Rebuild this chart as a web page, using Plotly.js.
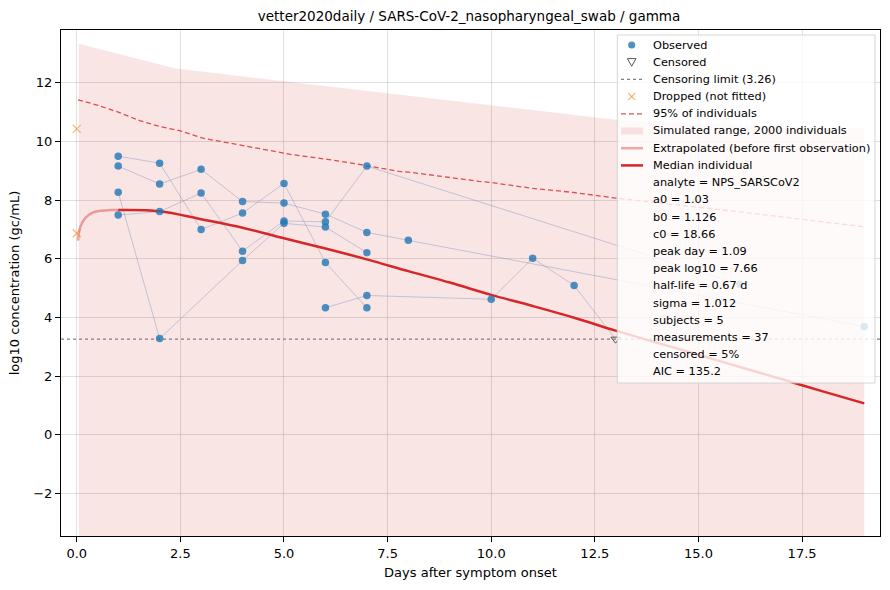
<!DOCTYPE html>
<html>
<head>
<meta charset="utf-8">
<script src="https://cdn.plot.ly/plotly-3.0.1.min.js"></script>
<style>
  html, body { margin: 0; padding: 0; background: #fff; }
  #chart { width: 890px; height: 590px; }
</style>
</head>
<body>
<div id="chart"></div>
<script>
// --- data ---
const CENSOR_LIMIT = 3.26;

// one entry per subject: days, log10 values (+ censored flags)
const s1Days = [1, 2, 3, 4, 5, 6, 7];
const s1Vals = [9.50, 9.26, 7.00, 7.56, 8.57, 5.87, 4.33];
const s2Days = [1, 2, 3, 4, 5, 6, 7, 8, 19];
const s2Vals = [9.16, 8.55, 9.05, 7.95, 7.90, 7.52, 6.90, 6.63, 3.69];
const s3Days = [1, 2, 3, 4, 5, 6, 7, 16];
const s3Vals = [7.49, 7.61, 8.24, 6.26, 7.29, 7.26, 9.16, 5.13];
const s4Days = [1, 2, 4, 5, 6, 7];
const s4Vals = [8.27, 3.28, 5.94, 7.21, 7.08, 6.21];
const s5Days = [6, 7, 10, 11, 12, 13];
const s5Vals = [4.33, 4.75, 4.62, 6.02, 5.09, 3.26];
const s5Cens = [false, false, false, false, false, true];

const droppedDays = [0, 0];
const droppedVals = [10.43, 6.87];

// median individual, extrapolated part before first observation
const extrapDays = [0.03, 0.08, 0.2, 0.36, 0.6, 0.8, 1.0];
const extrapVals = [6.62, 7.06, 7.38, 7.56, 7.64, 7.66, 7.66];
const medianDays = [1, 2, 3, 4, 5, 6, 7, 8, 9, 10, 11, 12, 13, 14, 15, 16, 17, 18, 19];
const medianVals = [7.66, 7.62, 7.35, 7.06, 6.70, 6.35, 5.98, 5.58, 5.19, 4.77, 4.39, 3.99, 3.55, 3.14, 2.73, 2.31, 1.90, 1.48, 1.07];

// 95% of individuals
const p95Days = [0.03, 0.47, 1.0, 1.52, 2.0, 2.48, 3.05, 3.93, 4.57, 5.2, 6.0, 6.77, 7.78, 8.1, 9.71, 10, 11, 12, 13, 16, 19];
const p95Vals = [11.42, 11.25, 11.0, 10.71, 10.51, 10.37, 10.11, 9.88, 9.69, 9.55, 9.40, 9.23, 8.98, 8.94, 8.64, 8.60, 8.40, 8.26, 8.07, 7.60, 7.09];

// simulated range (2000 individuals)
const simDays = [0.05, 2.36, 4.89, 7.46, 10, 13, 16, 19];
const simHigh = [13.33, 12.50, 12.07, 11.65, 11.25, 10.74, 10.55, 10.45];
const simLow = [-3.6, -3.6, -3.6, -3.6, -3.6, -3.6, -3.6, -3.6];

const legendLabels = [
  "Observed",
  "Censored",
  "Censoring limit (" + CENSOR_LIMIT + ")",
  "Dropped (not fitted)",
  "95% of individuals",
  "Simulated range, 2000 individuals",
  "Extrapolated (before first observation)",
  "Median individual"
];
const statLines = [
  "analyte = NPS_SARSCoV2",
  "a0 = 1.03",
  "b0 = 1.126",
  "c0 = 18.66",
  "peak day = 1.09",
  "peak log10 = 7.66",
  "half-life = 0.67 d",
  "sigma = 1.012",
  "subjects = 5",
  "measurements = 37",
  "censored = 5%",
  "AIC = 135.2"
];

const xRange = [-0.38, 19.38];
const yRange = [-3.45, 13.8];

// colours
const BLUE = "rgba(31,119,180,0.8)";
const RED = "#d62728";
const RED_PALE = "rgba(214,39,40,0.4)";
const RED_DASH = "rgba(214,39,40,0.8)";
const FILL = "rgba(214,39,40,0.12)";
const ORANGE = "rgba(255,127,14,0.6)";
const GREY = "#808080";

// --- traces ---
const subjects = [
  { d: s1Days, v: s1Vals },
  { d: s2Days, v: s2Vals },
  { d: s3Days, v: s3Vals },
  { d: s4Days, v: s4Vals },
  { d: s5Days, v: s5Vals, c: s5Cens }
];

const obsX = [], obsY = [], cenX = [], cenY = [];
subjects.forEach(s => {
  s.d.forEach((d, i) => {
    if (s.c && s.c[i]) { cenX.push(d); cenY.push(s.v[i]); }
    else { obsX.push(d); obsY.push(s.v[i]); }
  });
});

const traces = [];
traces.push({ x: simDays, y: simLow, mode: "lines", line: { width: 0 } });
traces.push({
  x: simDays, y: simHigh, mode: "lines", fill: "tonexty",
  fillcolor: FILL, line: { width: 0, color: FILL }
});
subjects.forEach(s => {
  traces.push({
    x: s.d, y: s.v, mode: "lines",
    line: { color: "rgba(110,140,185,0.4)", width: 1 }
  });
});
traces.push({
  x: p95Days, y: p95Vals, mode: "lines",
  line: { color: RED_DASH, width: 1.3, dash: "5px,3px" }
});
traces.push({
  x: xRange, y: [CENSOR_LIMIT, CENSOR_LIMIT], mode: "lines",
  line: { color: GREY, width: 1.4, dash: "dot" }
});
traces.push({
  x: extrapDays, y: extrapVals, mode: "lines",
  line: { color: RED_PALE, width: 2.5, shape: "spline" }
});
traces.push({
  x: medianDays, y: medianVals, mode: "lines",
  line: { color: RED, width: 2.5, shape: "spline" }
});
traces.push({
  x: obsX, y: obsY, mode: "markers",
  marker: { color: BLUE, size: 7.5 }
});
traces.push({
  x: cenX, y: cenY, mode: "markers",
  marker: { symbol: "triangle-down-open", color: "#555", size: 8, line: { width: 1 } }
});
traces.push({
  x: droppedDays, y: droppedVals, mode: "markers",
  marker: { symbol: "x-thin-open", color: ORANGE, size: 8, line: { width: 1.2, color: ORANGE } }
});

// --- hand-built legend box (matplotlib style) in paper coordinates ---
const L = 61, T = 30, W = 819, H = 506;
const px = v => (v - L) / W;
const py = v => (T + H - v) / H;

const rowTop = 45, rowStep = 17.2;
const glyphC = 631.7, glyphL = 621, glyphR = 643, textX = 651;
const rowY = i => rowTop + i * rowStep;

const shapes = [];
const line = (y, color, width, dash) => ({
  type: "line", xref: "paper", yref: "paper", layer: "above",
  x0: px(glyphL), x1: px(glyphR), y0: py(y), y1: py(y),
  line: { color: color, width: width, dash: dash || "solid" }
});

shapes.push({
  type: "rect", xref: "paper", yref: "paper", layer: "above",
  x0: px(617.3), x1: px(875), y0: py(383), y1: py(35),
  fillcolor: "rgba(255,255,255,0.8)", line: { color: "rgba(204,204,204,0.8)", width: 1 }
});
// Observed
shapes.push({
  type: "circle", xref: "paper", yref: "paper", layer: "above",
  x0: px(glyphC - 3.6), x1: px(glyphC + 3.6), y0: py(rowY(0) + 3.6), y1: py(rowY(0) - 3.6),
  fillcolor: BLUE, line: { width: 0 }
});
// Censored
shapes.push({
  type: "path", xref: "paper", yref: "paper", layer: "above",
  path: "M" + px(glyphC - 4.3) + "," + py(rowY(1) - 3.6) +
        " L" + px(glyphC + 4.3) + "," + py(rowY(1) - 3.6) +
        " L" + px(glyphC) + "," + py(rowY(1) + 4) + " Z",
  fillcolor: "rgba(0,0,0,0)", line: { color: "#555", width: 1 }
});
shapes.push(line(rowY(2), GREY, 1.4, "dot"));
// Dropped x
[[-3.5, -3.5, 3.5, 3.5], [-3.5, 3.5, 3.5, -3.5]].forEach(d => {
  shapes.push({
    type: "line", xref: "paper", yref: "paper", layer: "above",
    x0: px(glyphC + d[0]), y0: py(rowY(3) + d[1]), x1: px(glyphC + d[2]), y1: py(rowY(3) + d[3]),
    line: { color: ORANGE, width: 1.2 }
  });
});
shapes.push(line(rowY(4), RED_DASH, 1.3, "5px,3px"));
shapes.push({
  type: "rect", xref: "paper", yref: "paper", layer: "above",
  x0: px(glyphL), x1: px(glyphR), y0: py(rowY(5) + 3.5), y1: py(rowY(5) - 3.5),
  fillcolor: FILL, line: { width: 0 }
});
shapes.push(line(rowY(6), RED_PALE, 2.5));
shapes.push(line(rowY(7), RED, 2.5));

const font = "DejaVu Sans, Liberation Sans, sans-serif";
const annotations = legendLabels.concat(statLines).map((t, i) => ({
  text: t, xref: "paper", yref: "paper",
  x: px(textX), y: py(rowY(i)), xanchor: "left", yanchor: "middle",
  showarrow: false, font: { family: font, size: 11.3, color: "#000" }
}));

const layout = {
  width: 890, height: 590,
  paper_bgcolor: "#fff", plot_bgcolor: "#fff",
  margin: { l: L, r: 10, t: T, b: 54 },
  font: { family: font, size: 13, color: "#000" },
  showlegend: false,
  title: {
    text: "vetter2020daily / SARS-CoV-2_nasopharyngeal_swab / gamma",
    font: { family: font, size: 13.5, color: "#000" },
    x: 0.527, xanchor: "center", y: 0.972, yanchor: "middle"
  },
  xaxis: {
    range: xRange, dtick: 2.5, tick0: 0, tickformat: ".1f",
    showgrid: true, gridcolor: "rgba(0,0,0,0.12)", zeroline: false,
    showline: true, linecolor: "#000", linewidth: 1, mirror: true,
    ticks: "outside", ticklen: 5, tickcolor: "#000",
    tickfont: { size: 13 },
    title: { text: "Days after symptom onset", font: { size: 13 }, standoff: 8 }
  },
  yaxis: {
    range: yRange, dtick: 2, tick0: 0,
    showgrid: true, gridcolor: "rgba(0,0,0,0.12)", zeroline: false,
    showline: true, linecolor: "#000", linewidth: 1, mirror: true,
    ticks: "outside", ticklen: 5, tickcolor: "#000",
    tickfont: { size: 13 },
    title: { text: "log10 concentration (gc/mL)", font: { size: 13 }, standoff: 10 }
  },
  shapes: shapes,
  annotations: annotations
};

Plotly.newPlot("chart", traces, layout, { displayModeBar: false, staticPlot: true });
</script>
</body>
</html>
